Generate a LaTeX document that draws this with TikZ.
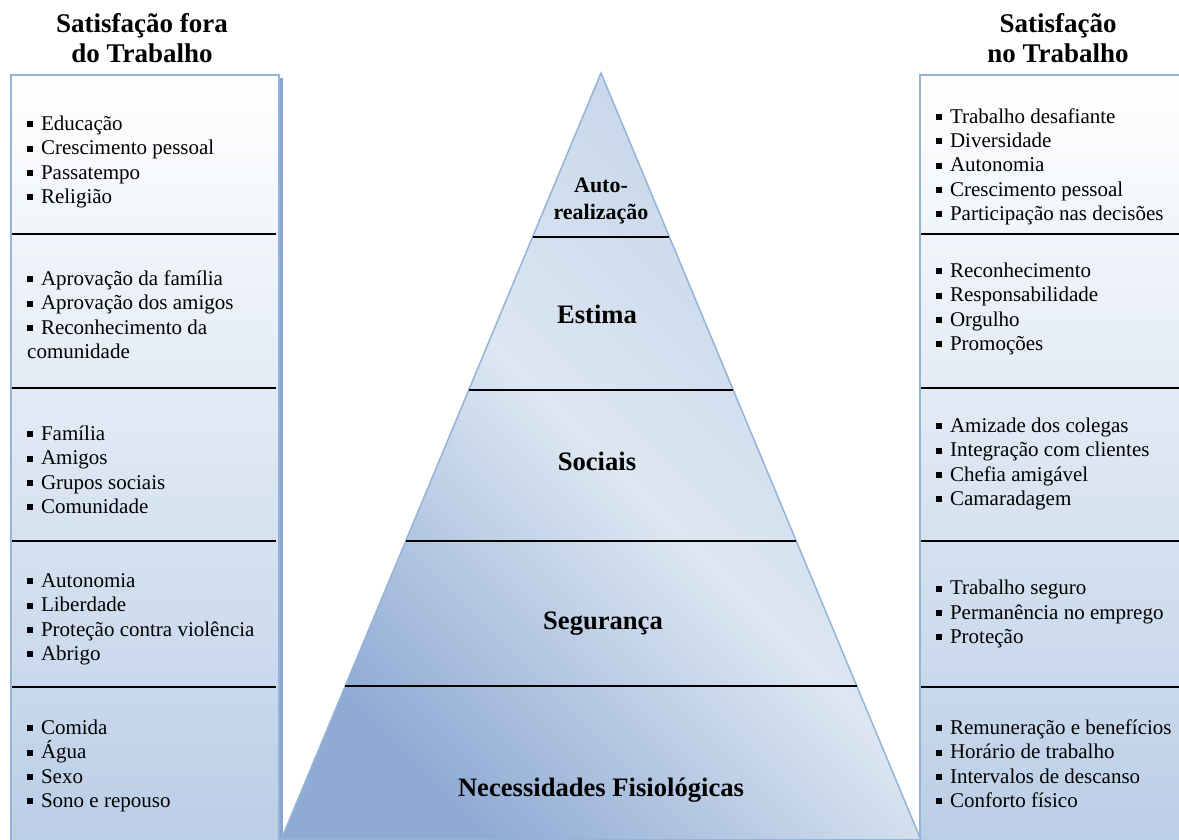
\documentclass[tikz,border=0pt]{standalone}
\usepackage{fontspec}
\setmainfont{Liberation Serif}
\usetikzlibrary{calc}
\definecolor{edgeblue}{HTML}{95B3D7}
\definecolor{shadowblue}{HTML}{8AA6CE}
\definecolor{boxbottom}{HTML}{B9CDE6}
\definecolor{pyrdark}{HTML}{8FABD4}
\definecolor{pyrmid}{HTML}{DDE7F2}
\definecolor{pyrtop}{HTML}{C2D3E9}
\newcommand{\bul}{\raisebox{0.16em}{\rule{0.28em}{0.28em}}\hspace{0.38em}}
\tikzset{
  colbox/.style={draw=edgeblue, line width=1.5pt, top color=white, bottom color=boxbottom},
  divider/.style={line width=1.6pt, black},
  itemlist/.style={inner sep=0pt, align=left, font=\fontsize{21}{24.3}\selectfont},
  coltitle/.style={inner sep=0pt, align=center, font=\fontsize{27}{30}\selectfont\bfseries},
  level/.style={inner sep=0pt, font=\fontsize{26.6}{30}\selectfont\bfseries},
}
\begin{document}
\begin{tikzpicture}[x=1pt,y=1pt]
\useasboundingbox (0,0) rectangle (1179,840);
\begin{scope}
\clip (0,0) rectangle (1179,840);
% left column
\fill[shadowblue] (14,-20) rectangle (282.5,762);
\path[colbox] (11,-20) rectangle (279,765);
\coordinate (lL1) at (12,606); \coordinate (lR1) at (276,606);
\coordinate (lL2) at (12,452); \coordinate (lR2) at (276,452);
\coordinate (lL3) at (12,299); \coordinate (lR3) at (276,299);
\coordinate (lL4) at (12,153); \coordinate (lR4) at (276,153);
\draw[divider] (lL1) -- (lR1);
\draw[divider] (lL2) -- (lR2);
\draw[divider] (lL3) -- (lR3);
\draw[divider] (lL4) -- (lR4);
% right column
\path[colbox] (920,-20) rectangle (1195,765);
\coordinate (rL1) at (921,606); \coordinate (rR1) at (1179,606);
\coordinate (rL2) at (921,452); \coordinate (rR2) at (1179,452);
\coordinate (rL3) at (921,299); \coordinate (rR3) at (1179,299);
\coordinate (rL4) at (921,153); \coordinate (rR4) at (1179,153);
\draw[divider] (rL1) -- (rR1);
\draw[divider] (rL2) -- (rR2);
\draw[divider] (rL3) -- (rR3);
\draw[divider] (rL4) -- (rR4);
% pyramid
\coordinate (apex) at (601,767);
\coordinate (bl) at (281,0);
\coordinate (br) at (921,0);
\path[draw=edgeblue, line width=1.5pt, top color=pyrdark, bottom color=pyrtop, middle color=pyrmid, shading angle=135]
  (apex) -- (bl) -- (br) -- cycle;
\foreach \t in {0.2138,0.4133,0.6102,0.7992}{
  \draw[divider] ($(apex)!\t!(bl)$) -- ($(apex)!\t!(br)$);
}
\end{scope}
% titles (base = last line)
\node[coltitle, anchor=base] (tl) at (142,777) {Satisfação fora\\do Trabalho};
\node[coltitle, anchor=base] (tr) at (1058,777) {Satisfação\\no Trabalho};
% pyramid labels
\node[inner sep=0pt, align=center, font=\fontsize{22}{27}\selectfont\bfseries, anchor=base] (p5) at (601,620) {Auto-\\realização};
\node[level, anchor=base] (p4) at (597,516) {Estima};
\node[level, anchor=base] (p3) at (597,369) {Sociais};
\node[level, anchor=base] (p2) at (603,210) {Segurança};
\node[level, anchor=base] (p1) at (601,43) {Necessidades Fisiológicas};
% left lists (base = last line)
\node[itemlist, anchor=base west] (l1) at (27,636.5) {\bul Educação\\\bul Crescimento pessoal\\\bul Passatempo\\\bul Religião};
\node[itemlist, anchor=base west] (l2) at (27,481.5) {\bul Aprovação da família\\\bul Aprovação dos amigos\\\bul Reconhecimento da\\comunidade};
\node[itemlist, anchor=base west] (l3) at (27,326.5) {\bul Família\\\bul Amigos\\\bul Grupos sociais\\\bul Comunidade};
\node[itemlist, anchor=base west] (l4) at (27,179.5) {\bul Autonomia\\\bul Liberdade\\\bul Proteção contra violência\\\bul Abrigo};
\node[itemlist, anchor=base west] (l5) at (27,32.5) {\bul Comida\\\bul Água\\\bul Sexo\\\bul Sono e repouso};
% right lists
\node[itemlist, anchor=base west] (r1) at (936,619.5) {\bul Trabalho desafiante\\\bul Diversidade\\\bul Autonomia\\\bul Crescimento pessoal\\\bul Participação nas decisões};
\node[itemlist, anchor=base west] (r2) at (936,489.5) {\bul Reconhecimento\\\bul Responsabilidade\\\bul Orgulho\\\bul Promoções};
\node[itemlist, anchor=base west] (r3) at (936,334.5) {\bul Amizade dos colegas\\\bul Integração com clientes\\\bul Chefia amigável\\\bul Camaradagem};
\node[itemlist, anchor=base west] (r4) at (936,196.5) {\bul Trabalho seguro\\\bul Permanência no emprego\\\bul Proteção};
\node[itemlist, anchor=base west] (r5) at (936,32.5) {\bul Remuneração e benefícios\\\bul Horário de trabalho\\\bul Intervalos de descanso\\\bul Conforto físico};
\end{tikzpicture}
\end{document}
